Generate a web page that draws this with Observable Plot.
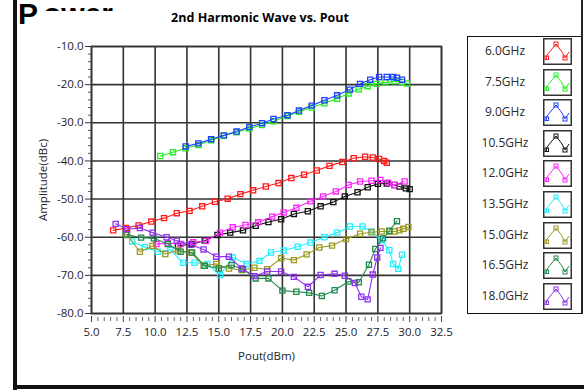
<!DOCTYPE html>
<html>
<head>
<meta charset="utf-8">
<script src="https://cdn.jsdelivr.net/npm/d3@7"></script>
<script src="https://cdn.jsdelivr.net/npm/@observablehq/plot@0.6"></script>
<style>
  html, body { margin: 0; padding: 0; background: #fff; }
  #wrap { position: relative; width: 584px; height: 390px; overflow: hidden; background: #fff; font-family: "Open Sans", "Noto Sans", sans-serif; }
  #power { position: absolute; left: 18px; top: -1px; font: bold 30px/30px "Liberation Sans", Arial, sans-serif; color: #000; z-index: 1; white-space: nowrap; }
  #power span { margin-left: 5px; }
  #panel { position: absolute; left: 43px; top: 11px; width: 545px; height: 380px; background: #fff; z-index: 2; }
  #title { position: absolute; left: 100px; width: 320px; top: 9px; text-align: center; font: bold 12.5px "Open Sans", sans-serif; color: #000; z-index: 4; }
  #chart { position: absolute; left: 0; top: 0; z-index: 4; }
  #chart svg { background: none !important; }
  #lborder { position: absolute; left: 13px; top: 0; width: 4px; height: 390px; background: #111; z-index: 5; }
  #bborder { position: absolute; left: 13px; top: 385px; width: 580px; height: 4px; background: #111; z-index: 5; }
  #rline { position: absolute; left: 581px; top: 0; width: 2px; height: 314px; background: #222; z-index: 5; }
  #legend { position: absolute; left: 467px; top: 36px; width: 114px; height: 276px; border: 1.5px solid #111; border-right: none; z-index: 5; background: #fff; }
  .row { position: absolute; left: 0; width: 114px; height: 30px; }
  .row .lab { position: absolute; left: 0; width: 74px; text-align: center; top: 5px; font: 12px "Open Sans", sans-serif; color: #2a2a2a; }
  .row svg { position: absolute; left: 75px; top: 1px; }
</style>
</head>
<body>
<div id="wrap">
  <div id="power">P<span>ower</span></div>
  <div id="panel"></div>
  <div id="title">2nd Harmonic Wave vs. Pout</div>
  <div id="chart"></div>
  <div id="legend"></div>
  <div id="lborder"></div>
  <div id="bborder"></div>
  <div id="rline"></div>
</div>
<script>
// ---- data ----
const seriesNames = ["6.0GHz","7.5GHz","9.0GHz","10.5GHz","12.0GHz","13.5GHz","15.0GHz","16.5GHz","18.0GHz"];
const seriesColors = ["#ff1a1a","#22ee22","#2040ff","#111111","#ff22ff","#22eeff","#9c9a22","#228a4e","#9030f0"];

const x6  = [6.7,7.7,8.7,9.7,10.7,11.7,12.7,13.7,14.7,15.7,16.7,17.7,18.7,19.7,20.7,21.7,22.7,23.7,24.7,25.6,26.5,27.1,27.6,28.0,28.2];
const y6  = [-58.2,-57.6,-56.9,-55.9,-55.0,-53.7,-53.1,-51.9,-50.7,-49.9,-48.7,-47.7,-46.7,-45.8,-44.5,-43.6,-42.5,-41.3,-40.3,-39.3,-38.9,-39.1,-39.5,-40.0,-40.5];

const x75 = [10.4,11.4,12.4,13.4,14.4,15.4,16.4,17.4,18.4,19.3,20.4,21.3,22.3,23.3,24.3,25.2,26.0,26.7,27.4,28.1,28.8,29.4,29.8];
const y75 = [-38.7,-37.7,-36.7,-35.8,-34.6,-33.4,-32.5,-31.5,-30.6,-29.6,-28.2,-27.1,-26.0,-24.9,-23.7,-22.3,-21.2,-20.4,-19.8,-19.4,-19.1,-19.3,-19.7];

const x9  = [12.4,13.4,14.4,15.4,16.4,17.4,18.4,19.3,20.4,21.3,22.3,23.3,24.3,25.3,26.1,26.9,27.6,28.2,28.7,29.0,29.4];
const y9  = [-36.2,-35.4,-34.3,-33.3,-32.3,-31.1,-30.1,-29.0,-28.0,-26.8,-25.5,-24.1,-22.8,-21.3,-19.8,-18.7,-18.0,-18.0,-18.0,-18.2,-18.7];

const x105 = [11.8,12.9,13.9,14.9,15.9,16.9,17.9,18.9,19.9,20.9,22.0,23.0,24.0,24.9,25.9,26.7,27.5,28.2,28.8,29.2,29.7,30.0];
const y105 = [-62.3,-61.8,-60.9,-59.4,-58.8,-58.2,-57.0,-56.0,-55.3,-53.9,-53.2,-51.9,-50.8,-49.3,-48.2,-46.9,-46.0,-45.9,-46.3,-46.7,-47.2,-47.4];

const x12 = [10.1,11.0,12.0,13.0,14.0,15.1,16.1,17.1,18.1,19.2,20.1,21.1,22.2,23.2,24.2,25.2,26.1,27.0,27.7,28.3,28.8,29.6];
const y12 = [-61.8,-61.6,-61.8,-61.3,-61.0,-58.8,-57.4,-56.8,-56.1,-54.6,-53.5,-52.3,-50.6,-49.3,-48.0,-46.3,-45.4,-45.2,-45.0,-45.7,-46.3,-45.4];

const x135 = [8.2,9.2,10.2,11.2,12.2,13.1,14.1,15.1,16.1,17.2,18.2,19.1,20.1,21.2,22.2,23.3,24.3,25.3,26.3,27.0,27.8,28.4,28.7,29.1,29.4];
const y135 = [-61.1,-62.6,-63.8,-63.3,-66.7,-66.7,-67.0,-69.9,-65.3,-67.0,-66.2,-64.0,-63.5,-62.5,-61.4,-60.0,-58.8,-57.2,-57.2,-58.5,-60.8,-63.4,-67.0,-68.3,-64.6];

const x15 = [7.8,8.8,9.8,10.8,11.8,12.8,13.8,14.8,15.8,16.8,17.8,18.8,19.9,20.9,21.9,22.9,23.9,25.0,26.1,27.0,27.8,28.4,28.8,29.2,29.5,29.9];
const y15 = [-59.4,-63.8,-62.3,-64.4,-63.5,-64.0,-67.5,-67.0,-68.2,-68.6,-68.0,-68.4,-65.5,-66.0,-64.5,-62.7,-62.2,-60.5,-59.1,-58.7,-58.5,-58.5,-58.5,-58.2,-57.8,-57.3];

const x165 = [7.7,8.9,9.9,11.0,12.0,12.9,13.9,15.0,16.0,16.9,17.9,18.9,20.0,21.1,22.1,23.1,24.1,25.2,26.0,26.8,27.3,27.9,28.4,29.0];
const y165 = [-59.3,-60.1,-60.3,-61.8,-63.8,-64.0,-67.5,-68.2,-67.3,-68.4,-70.8,-70.8,-74.0,-74.3,-74.6,-75.4,-73.9,-71.6,-71.8,-67.2,-63.1,-60.3,-58.3,-55.8];

const x18 = [6.9,7.8,8.8,9.8,10.9,11.7,12.8,13.8,14.8,15.8,16.8,17.8,18.8,19.9,20.9,22.0,23.0,24.1,24.9,25.7,26.2,26.7,27.1,27.45,27.7];
const y18 = [-56.5,-57.9,-57.6,-58.8,-60.0,-60.9,-62.0,-63.2,-65.1,-65.1,-68.2,-70.2,-69.0,-69.0,-70.4,-73.0,-69.9,-69.6,-70.1,-72.0,-75.6,-76.3,-69.8,-65.3,-62.8];

const xTicks = [5.0,7.5,10.0,12.5,15.0,17.5,20.0,22.5,25.0,27.5,30.0,32.5];
const yTicks = [-80,-70,-60,-50,-40,-30,-20,-10];

// ---- build table ----
const xs = [x6,x75,x9,x105,x12,x135,x15,x165,x18];
const ys = [y6,y75,y9,y105,y12,y135,y15,y165,y18];
const data = seriesNames.map((s, i) => xs[i].map((x, j) => ({s, x, y: ys[i][j]})));

const xMinor = d3.range(5, 32.51, 0.5).filter(v => !xTicks.some(t => Math.abs(t - v) < 1e-6));
const yMinor = d3.range(-80, -9.9, 2).filter(v => !yTicks.includes(Math.round(v)));

const gridStyle = {stroke: "#333", strokeOpacity: 1, strokeWidth: 1.6};

const chart = Plot.plot({
  width: 460,
  height: 390,
  marginLeft: 91,
  marginRight: 19,
  marginTop: 46,
  marginBottom: 77,
  style: {background: "transparent", fontFamily: "'Open Sans', sans-serif", fontSize: "11.5px", color: "#1c1c2c"},
  x: {domain: [5, 32.5]},
  y: {domain: [-80, -10]},
  color: {domain: seriesNames, range: seriesColors},
  marks: [
    Plot.gridX(xTicks, gridStyle),
    Plot.gridY(yTicks, gridStyle),
    Plot.frame({stroke: "#333", strokeWidth: 1.6}),
    Plot.axisY(yTicks, {tickSize: 6, tickPadding: 2, tickFormat: d => d.toFixed(1),
      label: "Amplitude(dBc)", labelAnchor: "center", labelArrow: "none", labelOffset: 53, stroke: "#333"}),
    Plot.axisY(yMinor, {tickSize: 3, text: null, label: null, stroke: "#555"}),
    Plot.axisX(xTicks, {tickSize: 6, dy: 3, tickPadding: 5, tickFormat: d => d.toFixed(1),
      label: "Pout(dBm)", labelAnchor: "center", labelArrow: "none", labelOffset: 46, stroke: "#444"}),
    Plot.axisX(xMinor, {tickSize: 4, dy: 4, text: null, label: null, stroke: "#666"}),
    ...data.flatMap(d => [
      Plot.line(d, {x: "x", y: "y", stroke: "s", strokeWidth: 1.1}),
      Plot.dot(d, {x: "x", y: "y", stroke: "s", symbol: "square", r: 2.9, strokeWidth: 1.3, fill: "none"})
    ])
  ]
});
document.getElementById("chart").appendChild(chart);

// ---- legend ----
const legend = document.getElementById("legend");
seriesNames.forEach((name, i) => {
  const row = document.createElement("div");
  row.className = "row";
  row.style.top = (i * 30.6) + "px";
  const c = seriesColors[i];
  row.innerHTML = `<div class="lab">${name}</div>
  <svg width="29" height="27" viewBox="0 0 29 27">
    <rect x="0.75" y="0.75" width="27.5" height="25.5" fill="#fff" stroke="#333" stroke-width="1.5"/>
    <polyline points="3,22 4,17 13,6 19,14 22,20 26,14" fill="none" stroke="${c}" stroke-width="1"/>
    <rect x="2" y="18" width="3.5" height="3.5" fill="none" stroke="${c}" stroke-width="1"/>
    <rect x="11" y="4" width="4" height="4" fill="none" stroke="${c}" stroke-width="1"/>
    <rect x="20" y="18" width="4" height="4" fill="none" stroke="${c}" stroke-width="1"/>
  </svg>`;
  legend.appendChild(row);
});
</script>
</body>
</html>
